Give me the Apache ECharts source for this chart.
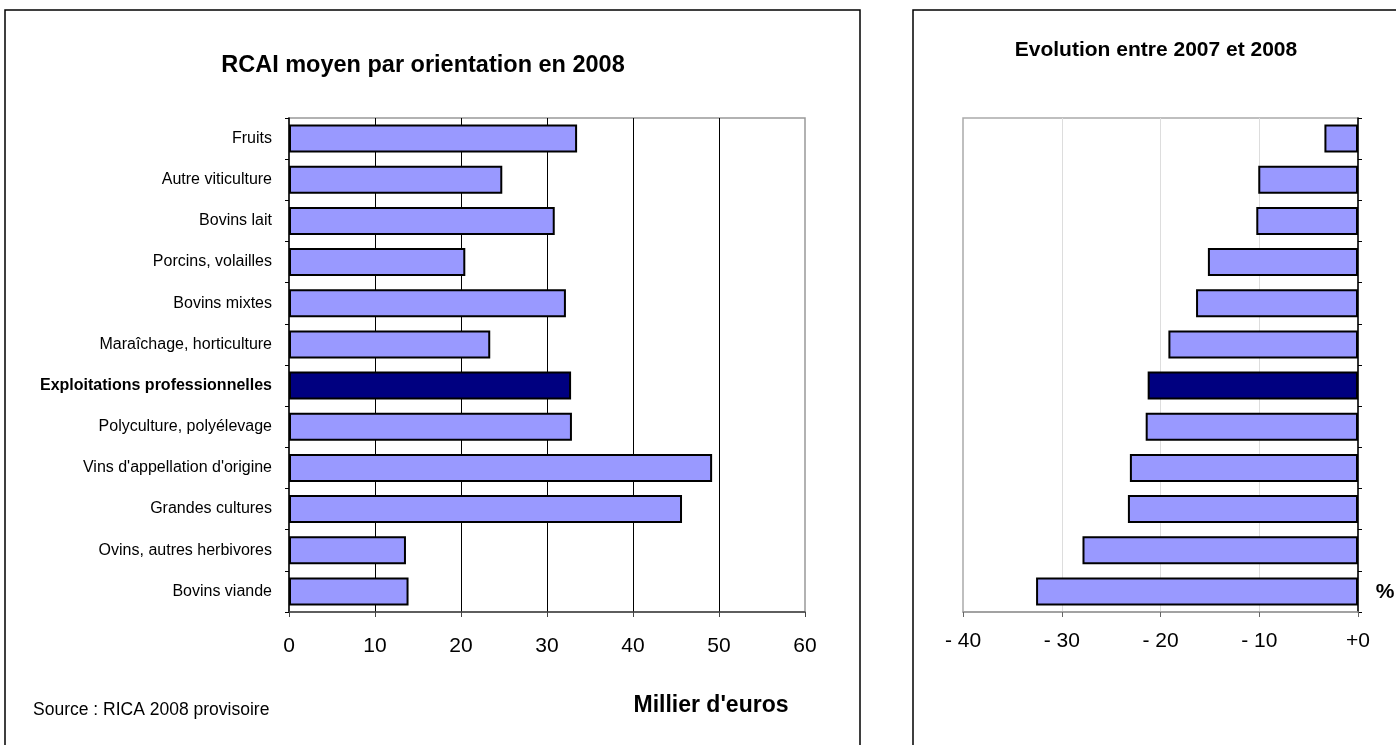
<!DOCTYPE html>
<html>
<head>
<meta charset="utf-8">
<script src="https://cdn.jsdelivr.net/npm/echarts@6/dist/echarts.min.js"></script>
<style>
  html, body { margin: 0; padding: 0; background: #fff; }
  #chart { width: 1396px; height: 745px; }
</style>
</head>
<body>
<div id="chart"></div>
<script>
// Orientations, listed from top to bottom
const categories = [
  'Fruits',
  'Autre viticulture',
  'Bovins lait',
  'Porcins, volailles',
  'Bovins mixtes',
  'Maraîchage, horticulture',
  'Exploitations professionnelles',
  'Polyculture, polyélevage',
  "Vins d'appellation d'origine",
  'Grandes cultures',
  'Ovins, autres herbivores',
  'Bovins viande'
];
// RCAI moyen 2008 (milliers d'euros)
const rcai2008 = [33.5, 24.8, 30.9, 20.5, 32.2, 23.4, 32.8, 32.9, 49.2, 45.7, 13.6, 13.9];
// Évolution 2007-2008 (%)
const evolution = [-3.4, -10.1, -10.3, -15.2, -16.4, -19.2, -21.3, -21.5, -23.1, -23.3, -27.9, -32.6];
// Tick values
const rcaiTicks = [0, 10, 20, 30, 40, 50, 60];
const evolTicks = [-40, -30, -20, -10, 0];

const totalLabel = 'Exploitations professionnelles';
const lightColor = '#9999FF';
const darkColor = '#000080';
const FONT = '"Liberation Sans", Arial, sans-serif';

function barItems(values) {
  return values.map((v, i) => ({
    value: v,
    itemStyle: { color: categories[i] === totalLabel ? darkColor : lightColor }
  }));
}

const chart = echarts.init(document.getElementById('chart'));

const barStyle = {
  type: 'bar',
  barCategoryGap: '32%',
  itemStyle: { borderColor: '#000', borderWidth: 2 },
  emphasis: { disabled: true },
  animation: false
};

chart.setOption({
  animation: false,
  textStyle: { fontFamily: FONT },
  grid: [
    { left: 289, width: 516, top: 118, height: 494, show: true, borderColor: '#999', borderWidth: 1.5, backgroundColor: 'transparent' },
    { left: 963, width: 395, top: 118, height: 494, show: true, borderColor: '#aaa', borderWidth: 1.5, backgroundColor: 'transparent' }
  ],
  xAxis: [
    {
      gridIndex: 0, type: 'value',
      min: rcaiTicks[0], max: rcaiTicks[rcaiTicks.length - 1], interval: 10,
      axisLine: { show: true, lineStyle: { color: '#444', width: 1.5 } },
      axisTick: { show: true, length: 5, lineStyle: { color: '#444' } },
      axisLabel: { fontSize: 21, color: '#000', margin: 24, fontFamily: FONT },
      splitLine: { show: true, showMinLine: false, showMaxLine: false, lineStyle: { color: '#000', width: 1 } }
    },
    {
      gridIndex: 1, type: 'value',
      min: evolTicks[0], max: evolTicks[evolTicks.length - 1], interval: 10,
      axisLine: { show: true, onZero: false, lineStyle: { color: '#999', width: 1.5 } },
      axisTick: { show: true, length: 5, lineStyle: { color: '#666' } },
      axisLabel: {
        fontSize: 21, color: '#000', margin: 19, fontFamily: FONT,
        formatter: v => (v < 0 ? '- ' + Math.abs(v) : '+0')
      },
      splitLine: { show: true, showMinLine: false, showMaxLine: false, lineStyle: { color: '#ddd', width: 1 } }
    }
  ],
  yAxis: [
    {
      gridIndex: 0, type: 'category', data: categories, inverse: true,
      axisLine: { show: true, lineStyle: { color: '#000', width: 1.5 } },
      axisTick: { show: true, length: 4, lineStyle: { color: '#000' } },
      axisLabel: {
        margin: 17, fontSize: 16, color: '#000', fontFamily: FONT,
        formatter: v => (v === totalLabel ? '{b|' + v + '}' : v),
        rich: { b: { fontWeight: 'bold', fontSize: 16, color: '#000', fontFamily: FONT } }
      }
    },
    {
      gridIndex: 1, type: 'category', data: categories, inverse: true, position: 'right',
      axisLine: { show: true, onZero: false, lineStyle: { color: '#000', width: 1.5 } },
      axisTick: { show: true, length: 4, lineStyle: { color: '#000' } },
      axisLabel: { show: false }
    }
  ],
  series: [
    Object.assign({}, barStyle, { name: 'RCAI 2008', xAxisIndex: 0, yAxisIndex: 0, data: barItems(rcai2008) }),
    Object.assign({}, barStyle, { name: 'Évolution', xAxisIndex: 1, yAxisIndex: 1, data: barItems(evolution) })
  ],
  graphic: [
    // Panel frames
    { type: 'rect', shape: { x: 5, y: 10, width: 855, height: 760 }, style: { fill: 'none', stroke: '#000', lineWidth: 1.5 }, silent: true },
    { type: 'rect', shape: { x: 913, y: 10, width: 500, height: 760 }, style: { fill: 'none', stroke: '#000', lineWidth: 1.5 }, silent: true },
    // Titles and notes
    { type: 'text', style: { x: 423, y: 66, text: 'RCAI moyen par orientation en 2008', font: 'bold 23.5px ' + FONT, fill: '#000', textAlign: 'center', textVerticalAlign: 'middle' }, silent: true },
    { type: 'text', style: { x: 1156, y: 50, text: 'Evolution entre 2007 et 2008', font: 'bold 21px ' + FONT, fill: '#000', textAlign: 'center', textVerticalAlign: 'middle' }, silent: true },
    { type: 'text', style: { x: 33, y: 710, text: 'Source : RICA 2008 provisoire', font: '17.5px ' + FONT, fill: '#000', textAlign: 'left', textVerticalAlign: 'middle' }, silent: true },
    { type: 'text', style: { x: 711, y: 706, text: "Millier d'euros", font: 'bold 23px ' + FONT, fill: '#000', textAlign: 'center', textVerticalAlign: 'middle' }, silent: true },
    { type: 'text', style: { x: 1385, y: 592, text: '%', font: 'bold 21px ' + FONT, fill: '#000', textAlign: 'center', textVerticalAlign: 'middle' }, silent: true }
  ]
});
</script>
</body>
</html>
